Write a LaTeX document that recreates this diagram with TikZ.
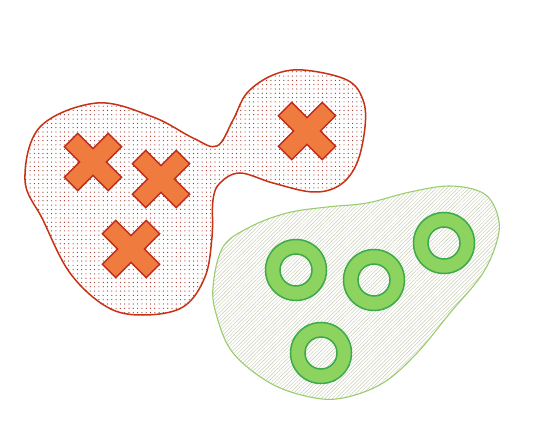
\documentclass[tikz,border=0pt]{standalone}
\usepackage{xcolor}
\usepackage{tikz}
\usetikzlibrary{patterns.meta}
\definecolor{canvas}{HTML}{FFFFFF}
\definecolor{redline}{HTML}{C83214}
\definecolor{reddot}{HTML}{A0281E}
\definecolor{crossfill}{HTML}{F07B3F}
\definecolor{crossline}{HTML}{BF2A1A}
\definecolor{greenline}{HTML}{9ACD6E}
\definecolor{hatch}{HTML}{C8CCB4}
\definecolor{ringfill}{HTML}{8DD35F}
\definecolor{ringline}{HTML}{3DAA4A}

\begin{document}
\begin{tikzpicture}[
    x=1pt,y=-1pt,
    redblob/.style={draw=redline,line width=1.5pt,pattern={Dots[distance=4.3pt,radius=0.6pt]},pattern color=reddot},
    greenblob/.style={draw=greenline,line width=1.1pt,pattern={Lines[angle=45,distance=2.6pt,line width=0.45pt]},pattern color=hatch},
    crossmark/.style={draw=crossline,fill=crossfill,line width=1.5pt,line join=miter},
    ringmark/.style={draw=ringline,fill=ringfill,line width=1.5pt,even odd rule}
]
\useasboundingbox[fill=canvas] (0,0) rectangle (560,433);
% left cluster
\draw[redblob] plot[smooth cycle,tension=0.6] coordinates {
  (25,180) (40,127) (97,103) (153,117) (193,138) (217,146) (233,120) (247,93)
  (273,75) (303,70) (347,80) (363,100) (365,127) (357,163) (340,185) (313,192)
  (273,183) (240,173) (220,183) (213,200) (212,237) (205,277) (183,307) (143,315)
  (107,307) (70,273) (43,220)};
% right cluster
\draw[greenblob] plot[smooth cycle,tension=0.6] coordinates {
  (213,287) (223,247) (250,227) (287,213) (327,207) (367,203) (410,192) (450,186)
  (483,193) (497,213) (498,237) (483,273) (450,313) (417,353) (383,383) (343,398)
  (310,397) (270,383) (233,353) (217,317)};
% crosses
\foreach \cx/\cy in {93/162, 161/179, 131/249, 307/131}
  \draw[crossmark,shift={(\cx,\cy)},rotate=45]
    (-9.5,31) -- (9.5,31) -- (9.5,9.5) -- (31,9.5) -- (31,-9.5) -- (9.5,-9.5)
    -- (9.5,-31) -- (-9.5,-31) -- (-9.5,-9.5) -- (-31,-9.5) -- (-31,9.5) -- (-9.5,9.5) -- cycle;
% rings
\foreach \cx/\cy in {296/270, 374/280, 444/243, 321/353}
  \draw[ringmark] (\cx,\cy) circle[radius=30.5] (\cx,\cy) circle[radius=16];
\end{tikzpicture}
\end{document}
